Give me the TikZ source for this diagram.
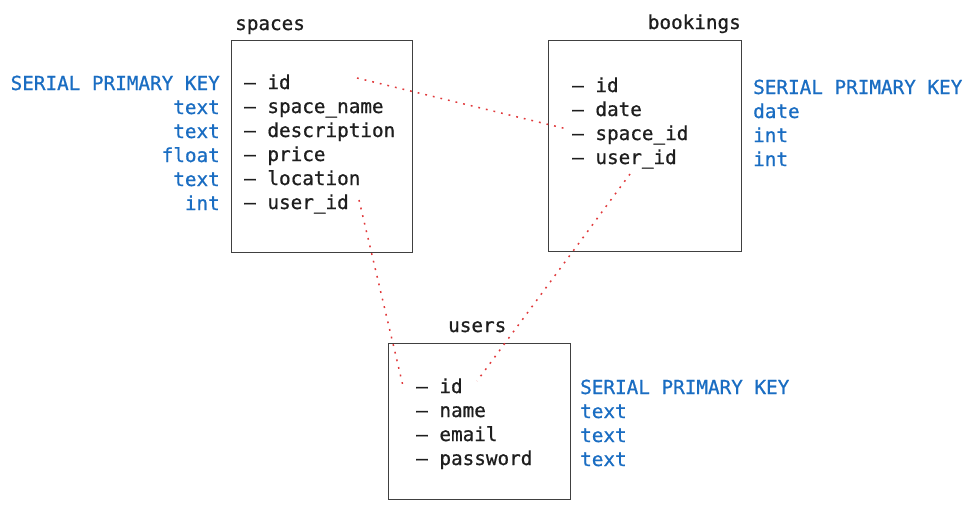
\documentclass[tikz,border=0pt]{standalone}
\usepackage{fontspec}
\newfontfamily\tablefont{DejaVu Sans Mono}[FakeBold=0.8]
\usetikzlibrary{positioning}
\definecolor{typeblue}{HTML}{1A6DC2}
\definecolor{linkred}{HTML}{E0383A}
\definecolor{inkgray}{HTML}{1E1E1E}
\tikzset{field/.style={font=\tablefont\fontsize{19.3}{24}\selectfont, text=inkgray, anchor=base west, inner sep=0pt}}
\tikzset{sqltype/.style={font=\tablefont\fontsize{19.3}{24}\selectfont, text=typeblue, inner sep=0pt}}
\tikzset{table/.style={draw=black!75, line width=1pt}}
\tikzset{link/.style={draw=linkred, line width=1.5pt, dash pattern=on 1.8pt off 6pt}}

\begin{document}
\begin{tikzpicture}[x=1pt, y=-1pt]
\useasboundingbox (0,0) rectangle (973,509);

\def \rowh {24} % distance between rows

% spaces
\draw[table] (231,40) rectangle (412,252);
\node[field] (spaces) at (235,30) {spaces};
\node[field] (s-id) at (244,89) {– id};
\node[field] (s-name) at (244,{89+\rowh}) {– space\_name};
\node[field] (s-desc) at (244,{89+2*\rowh}) {– description};
\node[field] (s-price) at (244,{89+3*\rowh}) {– price};
\node[field] (s-loc) at (244,{89+4*\rowh}) {– location};
\node[field] (s-user) at (244,{89+5*\rowh}) {– user\_id};

\node[sqltype, anchor=base east] (st-id) at (220,90) {SERIAL PRIMARY KEY};
\node[sqltype, anchor=base east] (st-name) at (220,{90+\rowh}) {text};
\node[sqltype, anchor=base east] (st-desc) at (220,{90+2*\rowh}) {text};
\node[sqltype, anchor=base east] (st-price) at (220,{90+3*\rowh}) {float};
\node[sqltype, anchor=base east] (st-loc) at (220,{90+4*\rowh}) {text};
\node[sqltype, anchor=base east] (st-user) at (220,{90+5*\rowh}) {int};

% bookings
\draw[table] (548,40) rectangle (741,251);
\node[field, anchor=base east] (bookings) at (741,29) {bookings};
\node[field] (b-id) at (572,92) {– id};
\node[field] (b-date) at (572,{92+\rowh}) {– date};
\node[field] (b-space) at (572,{92+2*\rowh}) {– space\_id};
\node[field] (b-user) at (572,{92+3*\rowh}) {– user\_id};

\node[sqltype, anchor=base west] (bt-id) at (753,94) {SERIAL PRIMARY KEY};
\node[sqltype, anchor=base west] (bt-date) at (753,{94+\rowh}) {date};
\node[sqltype, anchor=base west] (bt-space) at (753,{94+2*\rowh}) {int};
\node[sqltype, anchor=base west] (bt-user) at (753,{94+3*\rowh}) {int};

% users
\draw[table] (388,343) rectangle (570,499);
\node[field] (users) at (448,332) {users};
\node[field] (u-id) at (416,393) {– id};
\node[field] (u-name) at (416,{393+\rowh}) {– name};
\node[field] (u-email) at (416,{393+2*\rowh}) {– email};
\node[field] (u-pass) at (416,{393+3*\rowh}) {– password};

\node[sqltype, anchor=base west] (ut-id) at (580,394) {SERIAL PRIMARY KEY};
\node[sqltype, anchor=base west] (ut-name) at (580,{394+\rowh}) {text};
\node[sqltype, anchor=base west] (ut-email) at (580,{394+2*\rowh}) {text};
\node[sqltype, anchor=base west] (ut-pass) at (580,{394+3*\rowh}) {text};

% foreign keys
\coordinate (s-id-pin) at (357,78);
\coordinate (s-user-pin) at (359,200);
\coordinate (b-space-pin) at (567,129);
\coordinate (b-user-pin) at (630,174);
\coordinate (u-id-left) at (403,386);
\coordinate (u-id-right) at (477,381);

\draw[link] (s-id-pin) -- (b-space-pin);
\draw[link] (s-user-pin) -- (u-id-left);
\draw[link] (b-user-pin) -- (u-id-right);

\end{tikzpicture}
\end{document}
